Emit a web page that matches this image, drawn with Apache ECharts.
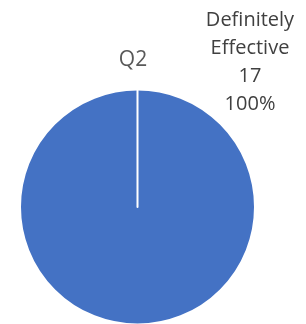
<!DOCTYPE html>
<html>
<head>
<meta charset="utf-8">
<script src="https://cdn.jsdelivr.net/npm/echarts@6/dist/echarts.min.js"></script>
<style>
  html, body { margin: 0; padding: 0; background: #fff; }
  #chart { width: 306px; height: 324px; }
</style>
</head>
<body>
<div id="chart"></div>
<script>
  ; (function () {
    const categories = ['Definitely Effective', '']
    const values = [17, 0]
    const total = 17

    const myChart = echarts.init(document.getElementById('chart'))
    const option = {
      animation: false,
      title: {
        text: 'Q2',
        left: 128,
        top: 45,
        textAlign: 'center',
        textStyle: {
          fontFamily: 'Open Sans',
          fontSize: 21,
          fontWeight: 'normal',
          color: '#595959'
        }
      },
      series: [
        {
          name: 'Q2',
          type: 'pie',
          radius: 117.5,
          center: [137.5, 207],
          startAngle: 90,
          clockwise: true,
          silent: true,
          itemStyle: {
            color: '#4472c4',
            borderColor: '#fff',
            borderWidth: 2
          },
          label: {
            show: true,
            formatter: function (p) {
              return p.name.replace(' ', '\n') + '\n' + p.value + '\n' + Math.round(p.value / total * 100) + '%'
            },
            fontFamily: 'Open Sans',
            fontSize: 20,
            lineHeight: 28,
            color: '#404040',
            align: 'center'
          },
          labelLine: { show: false },
          labelLayout: function (p) {
            if (p.dataIndex !== 0) return {}
            return { x: 250, y: 62, align: 'center', verticalAlign: 'middle' }
          },
          data: categories.map(function (c, i) {
            const d = { name: c, value: values[i] }
            if (values[i] === 0) d.label = { show: false }
            return d
          })
        }
      ]
    }

    myChart.setOption(option)
    window.addEventListener('resize', function () {
      myChart.resize()
    })
  })()
</script>
</body>
</html>
